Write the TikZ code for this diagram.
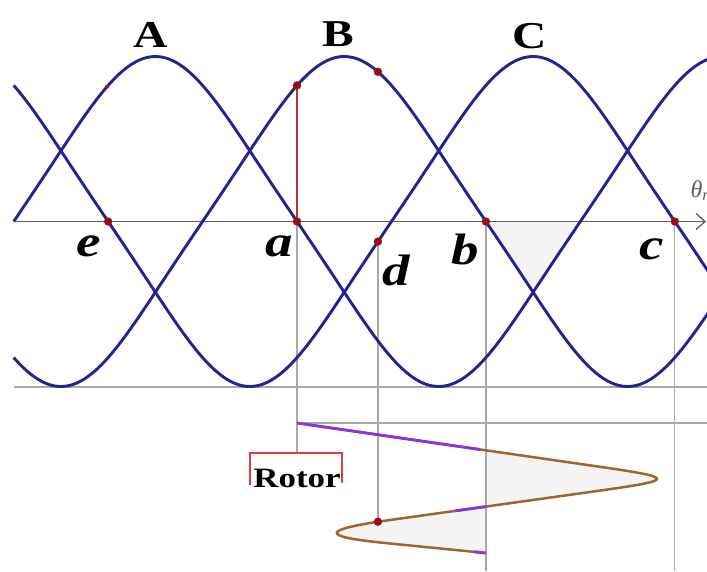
\documentclass[tikz,border=0pt]{standalone}
\usepackage{fontspec}
\setmainfont{Liberation Serif}
\newfontfamily\lblfont[FakeStretch=1.25]{Liberation Serif}
\usetikzlibrary{arrows.meta}

\definecolor{wavecol}{RGB}{35,35,145}
\definecolor{guidecol}{RGB}{168,168,168}
\definecolor{axiscol}{RGB}{95,95,95}
\definecolor{dotcol}{RGB}{150,15,25}
\definecolor{rotcol}{RGB}{160,100,45}
\definecolor{violetcol}{RGB}{140,50,230}
\definecolor{boxred}{RGB}{225,60,60}
\definecolor{lightfill}{RGB}{244,244,244}

\begin{document}
\begin{tikzpicture}[x=1pt,y=-1pt,
  declare function={wv(\t)=(sin(\t)-0.05*sin(3*\t))/1.05; posx(\t)=13.7+1.574*\t; lev(\v)=221.5-165*\v;},
  phase/.style={wavecol, line width=2.9pt},
  guide/.style={guidecol, line width=1.2pt},
  rotor/.style={rotcol, line width=2.5pt},
  dot/.style={fill=dotcol},
  bigletter/.style={anchor=base, font=\lblfont\bfseries\fontsize{38}{38}\selectfont},
  ptletter/.style={anchor=base, font=\lblfont\bfseries\itshape\fontsize{44}{44}\selectfont}]
  \useasboundingbox[fill=white] (0,0) rectangle (707,571);

  % Points on the axis and on the curves
  \coordinate (e) at ({posx(60)},221.5);
  \coordinate (a) at ({posx(180)},221.5);
  \coordinate (b) at ({posx(300)},221.5);
  \coordinate (c) at ({posx(420)},221.5);
  \coordinate (d) at ({posx(231.4)},{lev(wv(231.4-240))});
  \coordinate (aB) at ({posx(180)},{lev(wv(60))});
  \coordinate (dB) at ({posx(231.4)},{lev(wv(111.4))});
  \coordinate (eA) at ({posx(59.3)},{lev(wv(59.3))});

  % Rotor curve
  \coordinate (r0) at (a |- 0,423);
  \coordinate (r1) at (600,466.8);
  \coordinate (r2) at (600,490.6);
  \coordinate (r3) at (390,520);
  \coordinate (r4) at (385,543);
  \coordinate (r5) at (b |- 0,553);
  \coordinate (rb1) at (b |- 0,450.3);
  \coordinate (rb2) at (b |- 0,506.6);
  \coordinate (rd) at (d |- 0,521.7);

  % Shaded parts
  \fill[lightfill] plot[domain=300:330, samples=20] ({posx(\x)},{lev(wv(\x-120))})
    -- plot[domain=330:360, samples=20] ({posx(\x)},{lev(wv(\x))}) -- cycle;
  \fill[lightfill] (rb1) -- (r1) .. controls (676,477.8) and (676,479.9) .. (r2) -- (rb2) -- cycle;
  \fill[lightfill] (rb2) -- (r3) .. controls (320,529.8) and (320,536.5) .. (r4) -- (r5) -- cycle;

  % Guide lines
  \draw[guide] (14,387) -- (707,387);
  \draw[guide] (r0) -- (707,423);
  \draw[guide] (a) -- (a |- 0,453);
  \draw[guide] (d) -- (rd);
  \draw[guide] (b) -- (b |- 0,571);
  \draw[guide] (c) -- (c |- 0,571);

  % Axis
  \draw[axiscol, line width=1.8pt, -{Straight Barb[length=9pt,width=16pt,line width=1.3pt]}] (14,221.5) -- (706,221.5);
  \node[anchor=base west, text=axiscol, font=\itshape\fontsize{24}{24}\selectfont] (theta) at (687,197) {θ\textsubscript{r}};

  % Phase curves
  \draw[phase] plot[domain=0:445, samples=240] ({posx(\x)},{lev(wv(\x))});
  \draw[phase] plot[domain=0:445, samples=240] ({posx(\x)},{lev(wv(\x-120))});
  \draw[phase] plot[domain=0:445, samples=240] ({posx(\x)},{lev(wv(\x-240))});

  \draw[boxred!85!black, line width=1.5pt] (a) -- (aB);

  % Rotor curve
  \draw[rotor] (r0) -- (r1) .. controls (676,477.8) and (676,479.9) .. (r2) -- (r3)
    .. controls (320,529.8) and (320,536.5) .. (r4) -- (r5);
  \draw[violetcol, line width=2.8pt] (r0) -- (480,449.5);
  \draw[violetcol, line width=2.8pt] (455,510.9) -- (rb2);
  \draw[violetcol, line width=2.8pt] (474,551.8) -- (r5);

  % Dots
  \foreach \p in {e,a,b,c,d,aB,dB,rd}
    \fill[dot] (\p) circle (4.2);
  \fill[dot] (eA) circle (2);

  % Labels
  \node[bigletter] (labA) at (151,47) {A};
  \node[bigletter] (labB) at (338,46) {B};
  \node[bigletter] (labC) at (530,48) {C};
  \node[ptletter] (labe) at (89,256) {e};
  \node[ptletter] (laba) at (279,256) {a};
  \node[ptletter] (labd) at (396,285) {d};
  \node[ptletter] (labb) at (465,264) {b};
  \node[ptletter] (labc) at (652,259) {c};

  % Rotor box
  \draw[boxred, line width=2.5pt] (250,485) -- (250,453) -- (342,453) -- (342,483);
  \node[anchor=base, font=\lblfont\bfseries\fontsize{28}{28}\selectfont] (rotorlab) at (297,487) {Rotor};
\end{tikzpicture}
\end{document}
